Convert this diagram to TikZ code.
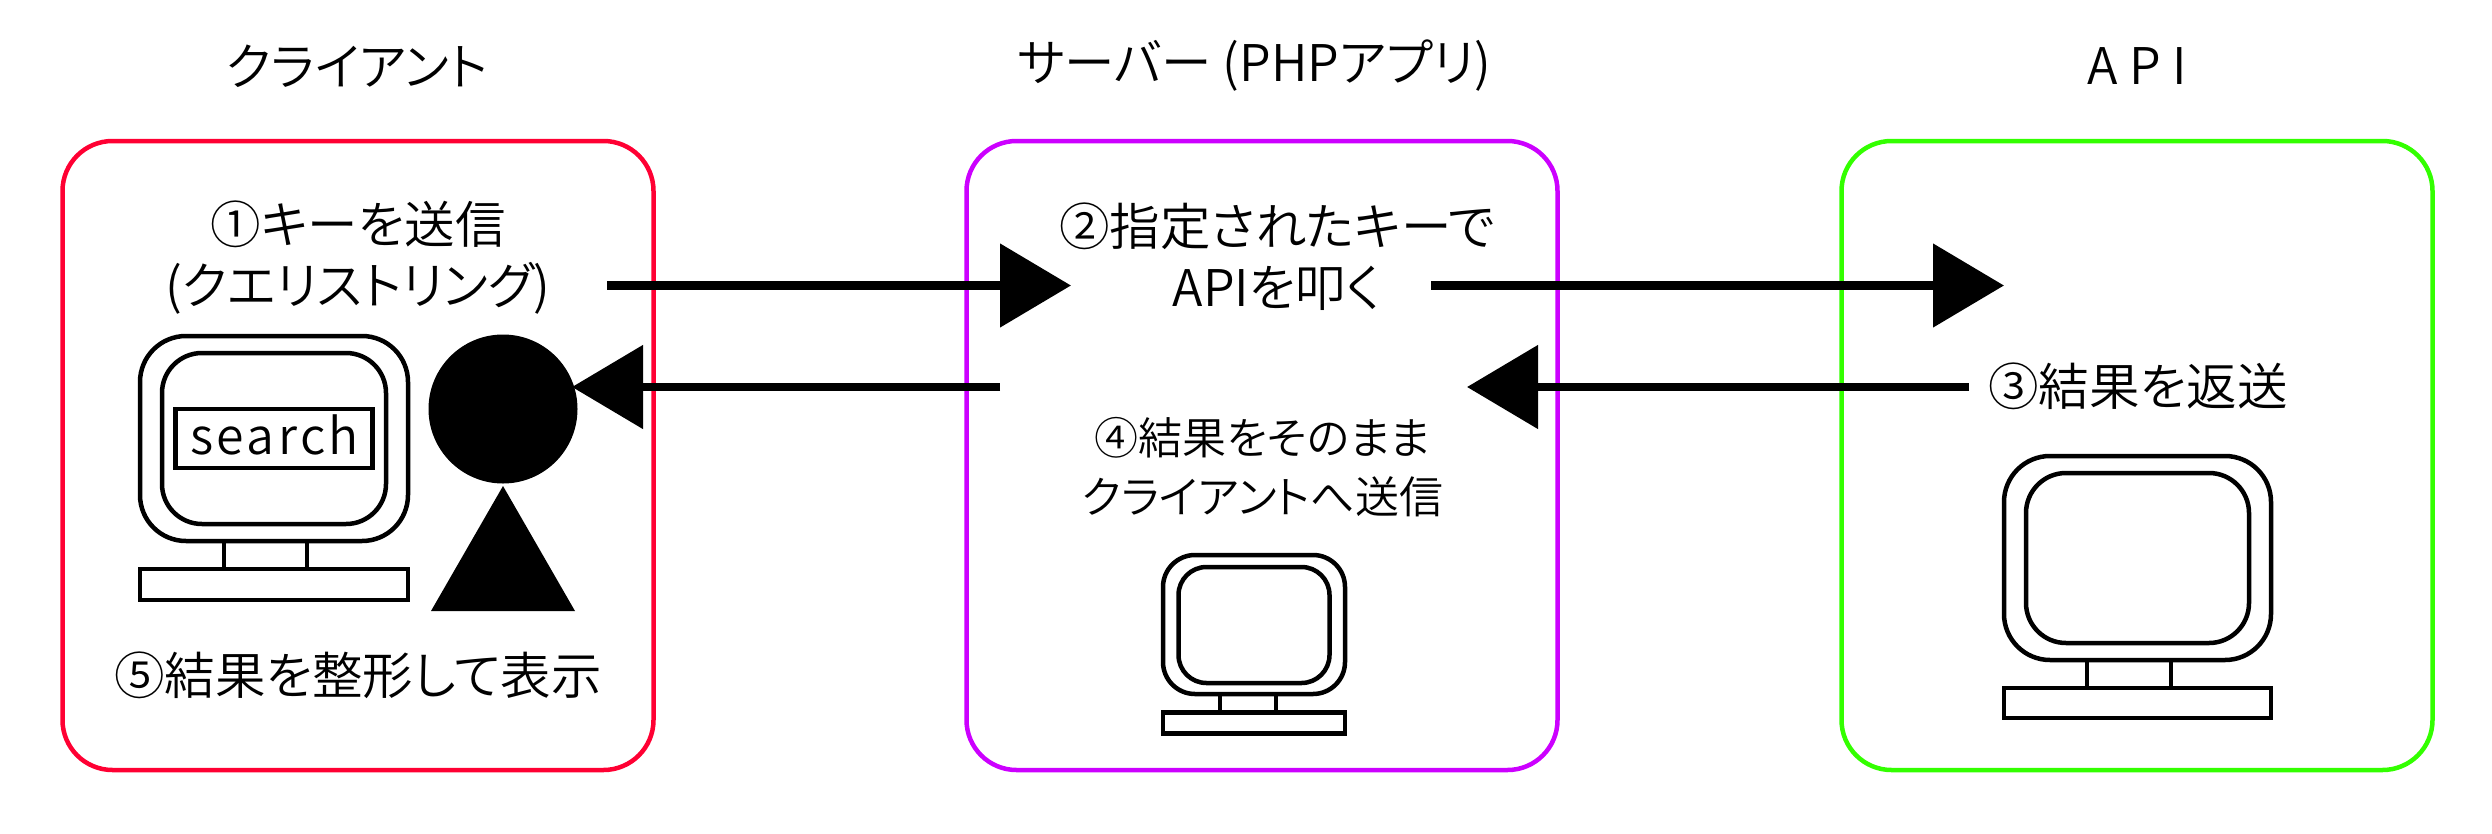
\documentclass[tikz,border=0pt]{standalone}
\usepackage{fontspec}
\setmainfont[RawFeature={+palt}]{Noto Sans CJK JP DemiLight}
\usetikzlibrary{arrows.meta}
\definecolor{clientred}{HTML}{FF0033}
\definecolor{serverpurple}{HTML}{CC00FF}
\definecolor{apigreen}{HTML}{33FF00}
\tikzset{
  pane/.style={draw, line width=4.5pt, rounded corners=50pt, minimum width=591pt, minimum height=629pt, inner sep=0pt},
  part/.style={draw, line width=4.5pt, inner sep=0pt},
  shell/.style={part, rounded corners=46pt},
  glass/.style={part, rounded corners=40pt},
  flow/.style={line width=8.5pt, -{Triangle[length=71pt, width=82pt]}},
  lbl/.style={font=\fontsize{50.5}{61}\selectfont, inner sep=0pt, align=center},
  smalllbl/.style={font=\fontsize{44}{59}\selectfont, inner sep=0pt, align=center},
  head/.style={font=\fontsize{50.5}{61}\selectfont, inner sep=0pt},
}
\begin{document}
\begin{tikzpicture}[x=1pt, y=-1pt]
    \path[fill=white, use as bounding box] (0,0) rectangle (2492,833);
    \node[pane, draw=clientred] (client) at (358, 455.5) {};
    \node[pane, draw=serverpurple] (server) at (1262, 455.5) {};
    \node[pane, draw=apigreen] (api) at (2137, 455.5) {};
    \node[head] (clienttitle) at (357, 66) {クライアント};
    \node[head] (servertitle) at (1254, 66) {サーバー (PHPアプリ)};
    \node[head] (apititle) at (2137, 66) {A P I};

    \node[shell, minimum width=268pt, minimum height=205pt] (m1shell) at (274, 438.5) {};
    \node[glass, minimum width=224pt, minimum height=171pt] (m1glass) at (274, 438.5) {};
    \node[part, minimum width=83pt, minimum height=28pt] (m1stand) at (265.5, 555) {};
    \node[part, minimum width=268pt, minimum height=31pt] (m1base) at (274, 584.5) {};
    \node[part, minimum width=197pt, minimum height=59pt] (m1search) at (274, 438.5) {};
    \node[inner sep=0pt, font=\fontsize{50}{60}\selectfont\addfontfeature{LetterSpace=7}] (m1word) at (274.5, 435) {search};

    \node[shape=circle, fill, minimum size=149pt, inner sep=0pt] (userhead) at (503, 409) {};
    \fill (431, 611) -- (503, 486) -- (575, 611) -- cycle;

    \node[shell, rounded corners=32pt, minimum width=182pt, minimum height=139pt] (m2shell) at (1254, 624.5) {};
    \node[glass, rounded corners=28pt, minimum width=151pt, minimum height=116pt] (m2glass) at (1254, 625) {};
    \node[part, minimum width=56pt, minimum height=19pt] (m2stand) at (1248, 703.5) {};
    \node[part, minimum width=182pt, minimum height=21pt] (m2base) at (1254, 723) {};

    \node[shell, minimum width=267pt, minimum height=204pt] (m3shell) at (2137.5, 558) {};
    \node[glass, minimum width=223pt, minimum height=170pt] (m3glass) at (2137.5, 558) {};
    \node[part, minimum width=84pt, minimum height=28pt] (m3stand) at (2129, 674) {};
    \node[part, minimum width=267pt, minimum height=30pt] (m3base) at (2137.5, 703) {};

    \node[lbl] (step1) at (358, 258) {①キーを送信\\(クエリストリング)};
    \node[lbl] (step2) at (1277, 257) {②指定されたキーで\\APIを叩く};
    \node[lbl] (step3) at (2138, 386) {③結果を返送};
    \node[smalllbl] (step4) at (1262.5, 467.5) {④結果をそのまま\\クライアントへ送信};
    \node[lbl] (step5) at (358, 675) {⑤結果を整形して表示};

    \coordinate (sendstart) at (607, 285.5);
    \coordinate (sendend) at (1071, 285.5);
    \coordinate (callstart) at (1431, 285.5);
    \coordinate (callend) at (2004, 285.5);
    \coordinate (retstart) at (1969, 387);
    \coordinate (retend) at (1467, 387);
    \coordinate (backstart) at (1000, 387);
    \coordinate (backend) at (572, 387);
    \draw[flow] (sendstart) -- (sendend);
    \draw[flow] (callstart) -- (callend);
    \draw[flow] (retstart) -- (retend);
    \draw[flow] (backstart) -- (backend);
\end{tikzpicture}
\end{document}
